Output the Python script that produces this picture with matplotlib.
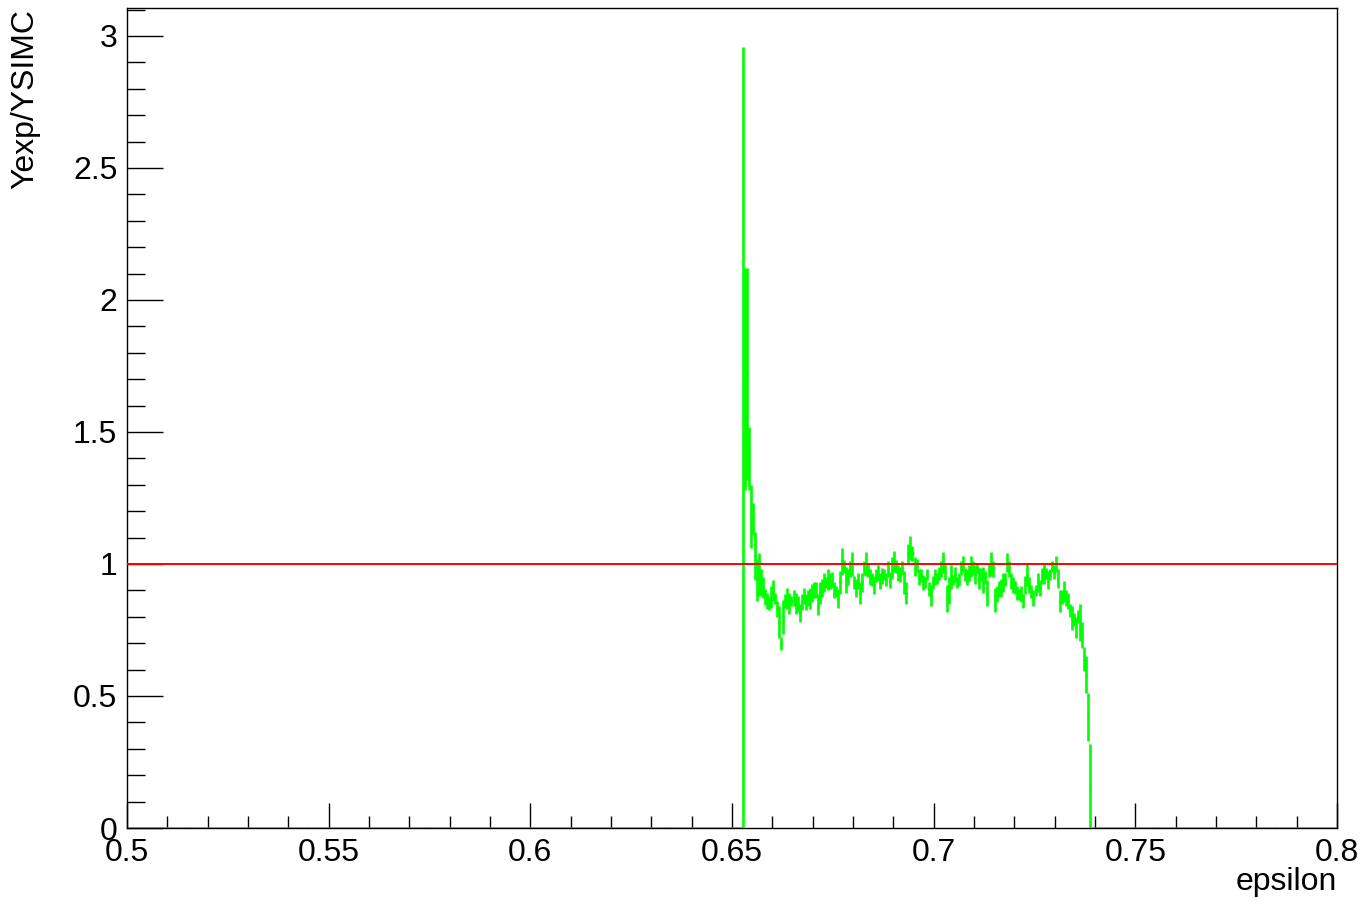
import matplotlib
matplotlib.use('Agg')
import matplotlib.pyplot as plt
import numpy as np
from matplotlib.ticker import MultipleLocator, FuncFormatter

# ---- data ----
x_min, x_max, n_bins = 0.5, 0.8, 600
first_filled_bin = 305   # bin starting at epsilon = 0.6525
y_max = 3.106
ref_level = 1.0
x_label = 'epsilon'
y_label = 'Yexp/YSIMC'

ratio_vals = [
    1.48, 1.70, 1.72, 1.40, 1.18, 1.17, 1.03, 0.94, 0.96, 0.93,
    0.91, 0.875, 0.86, 0.85, 0.875, 0.90, 0.87, 0.83, 0.78, 0.70,
    0.80, 0.86, 0.87, 0.85, 0.86, 0.87, 0.85, 0.85, 0.815, 0.855,
    0.88, 0.855, 0.87, 0.87, 0.89, 0.90, 0.90, 0.845, 0.89, 0.91,
    0.93, 0.93, 0.94, 0.935, 0.94, 0.90, 0.895, 0.87, 0.93, 1.01,
    0.99, 0.94, 0.95, 0.98, 1.00, 0.93, 0.91, 0.935, 0.89, 0.93,
    0.985, 1.00, 0.975, 0.95, 0.94, 0.92, 0.955, 0.965, 0.935, 0.955,
    0.96, 0.94, 0.98, 0.94, 0.985, 1.01, 0.99, 0.965, 0.96, 0.985,
    0.93, 0.89, 1.04, 1.06, 1.04, 0.99, 0.995, 0.95, 0.955, 0.93,
    0.93, 0.96, 0.905, 0.88, 0.93, 0.95, 0.945, 0.965, 0.98, 1.005,
    0.97, 0.87, 0.90, 0.95, 0.94, 0.96, 0.93, 0.94, 0.985, 1.00,
    0.96, 0.95, 0.965, 0.99, 0.985, 0.96, 0.985, 0.945, 0.96, 0.94,
    0.95, 0.89, 0.975, 1.00, 0.98, 0.865, 0.885, 0.905, 0.91, 0.93,
    0.94, 1.005, 0.98, 0.935, 0.92, 0.91, 0.89, 0.885, 0.885, 0.86,
    0.92, 0.96, 0.92, 0.895, 0.87, 0.90, 0.93, 0.91, 0.955, 0.965,
    0.965, 0.94, 0.96, 0.99, 0.97, 1.00, 0.945, 0.86, 0.875, 0.895,
    0.87, 0.86, 0.825, 0.795, 0.79, 0.76, 0.80, 0.78, 0.73, 0.64,
    0.58, 0.42, 0.16,
]
ratio_errs = [
    1.48, 0.42, 0.40, 0.12, 0.12, 0.06, 0.09, 0.08, 0.08, 0.05,
    0.04, 0.03, 0.03, 0.025, 0.04, 0.04, 0.02, 0.03, 0.06, 0.025,
    0.065, 0.025, 0.04, 0.04, 0.02, 0.03, 0.04, 0.03, 0.035, 0.03,
    0.03, 0.03, 0.03, 0.04, 0.035, 0.03, 0.03, 0.04, 0.04, 0.035,
    0.035, 0.02, 0.04, 0.03, 0.03, 0.03, 0.02, 0.035, 0.045, 0.05,
    0.025, 0.05, 0.03, 0.03, 0.045, 0.025, 0.035, 0.03, 0.04, 0.035,
    0.025, 0.045, 0.025, 0.03, 0.025, 0.035, 0.025, 0.03, 0.03, 0.03,
    0.02, 0.025, 0.03, 0.03, 0.04, 0.04, 0.025, 0.03, 0.03, 0.025,
    0.045, 0.04, 0.035, 0.045, 0.03, 0.035, 0.025, 0.03, 0.025, 0.03,
    0.02, 0.02, 0.025, 0.04, 0.025, 0.03, 0.02, 0.025, 0.03, 0.04,
    0.03, 0.05, 0.05, 0.045, 0.02, 0.03, 0.02, 0.025, 0.025, 0.03,
    0.025, 0.03, 0.03, 0.04, 0.025, 0.035, 0.02, 0.04, 0.025, 0.05,
    0.025, 0.05, 0.025, 0.045, 0.03, 0.045, 0.03, 0.03, 0.035, 0.035,
    0.025, 0.035, 0.03, 0.03, 0.03, 0.025, 0.025, 0.02, 0.03, 0.025,
    0.035, 0.045, 0.03, 0.025, 0.03, 0.02, 0.035, 0.03, 0.03, 0.04,
    0.02, 0.035, 0.02, 0.02, 0.025, 0.03, 0.035, 0.04, 0.025, 0.04,
    0.03, 0.03, 0.025, 0.045, 0.025, 0.04, 0.025, 0.07, 0.05, 0.045,
    0.07, 0.09, 0.16,
]

# ---- figure ----
plt.rcParams['font.family'] = ['Liberation Sans', 'DejaVu Sans']
W, H = 1360, 901
fig = plt.figure(figsize=(W / 100, H / 100), dpi=100)
ax = fig.add_axes([127 / W, 1 - 828 / H, 1210 / W, 820 / H])

edges = np.linspace(x_min, x_max, n_bins + 1)
centers = 0.5 * (edges[:-1] + edges[1:])
vals = np.zeros(n_bins)
errs = np.zeros(n_bins)
n = len(ratio_vals)
vals[first_filled_bin:first_filled_bin + n] = ratio_vals
errs[first_filled_bin:first_filled_bin + n] = ratio_errs

green = '#00ff00'
lw_g = 1.9
filled = vals != 0
# empty bins: flat line at zero
ax.hlines(vals[~filled], edges[:-1][~filled], edges[1:][~filled],
          color=green, lw=lw_g, zorder=2)
# filled bins: value marker + error bar
ax.hlines(vals[filled], edges[:-1][filled], edges[1:][filled],
          color=green, lw=lw_g, zorder=3)
ax.vlines(centers[filled], (vals - errs)[filled], (vals + errs)[filled],
          color=green, lw=lw_g, zorder=3)

ax.axhline(ref_level, color='#ff0000', lw=1.4, zorder=4)

ax.set_xlim(x_min, x_max)
ax.set_ylim(0, y_max)

fmt = FuncFormatter(lambda v, p: '%g' % round(v, 4))
ax.xaxis.set_major_locator(MultipleLocator(0.05))
ax.xaxis.set_minor_locator(MultipleLocator(0.01))
ax.yaxis.set_major_locator(MultipleLocator(0.5))
ax.yaxis.set_minor_locator(MultipleLocator(0.1))
ax.xaxis.set_major_formatter(fmt)
ax.yaxis.set_major_formatter(fmt)

ax.tick_params(axis='both', which='both', direction='in', top=False,
               right=False, width=1.0, color='black', labelsize=23)
ax.tick_params(axis='x', which='major', length=18, pad=7)
ax.tick_params(axis='x', which='minor', length=9)
ax.tick_params(axis='y', which='major', length=26, pad=7)
ax.tick_params(axis='y', which='minor', length=13)
for s in ax.spines.values():
    s.set_linewidth(1.0)
    s.set_color('black')

fig.text(1337 / W, 1 - 882 / H, x_label, ha='right', va='center', fontsize=23)
fig.text(25 / W, 1 - 9 / H, y_label, ha='center', va='top', rotation=90,
         fontsize=23)

fig.savefig('out.png', dpi=100)
